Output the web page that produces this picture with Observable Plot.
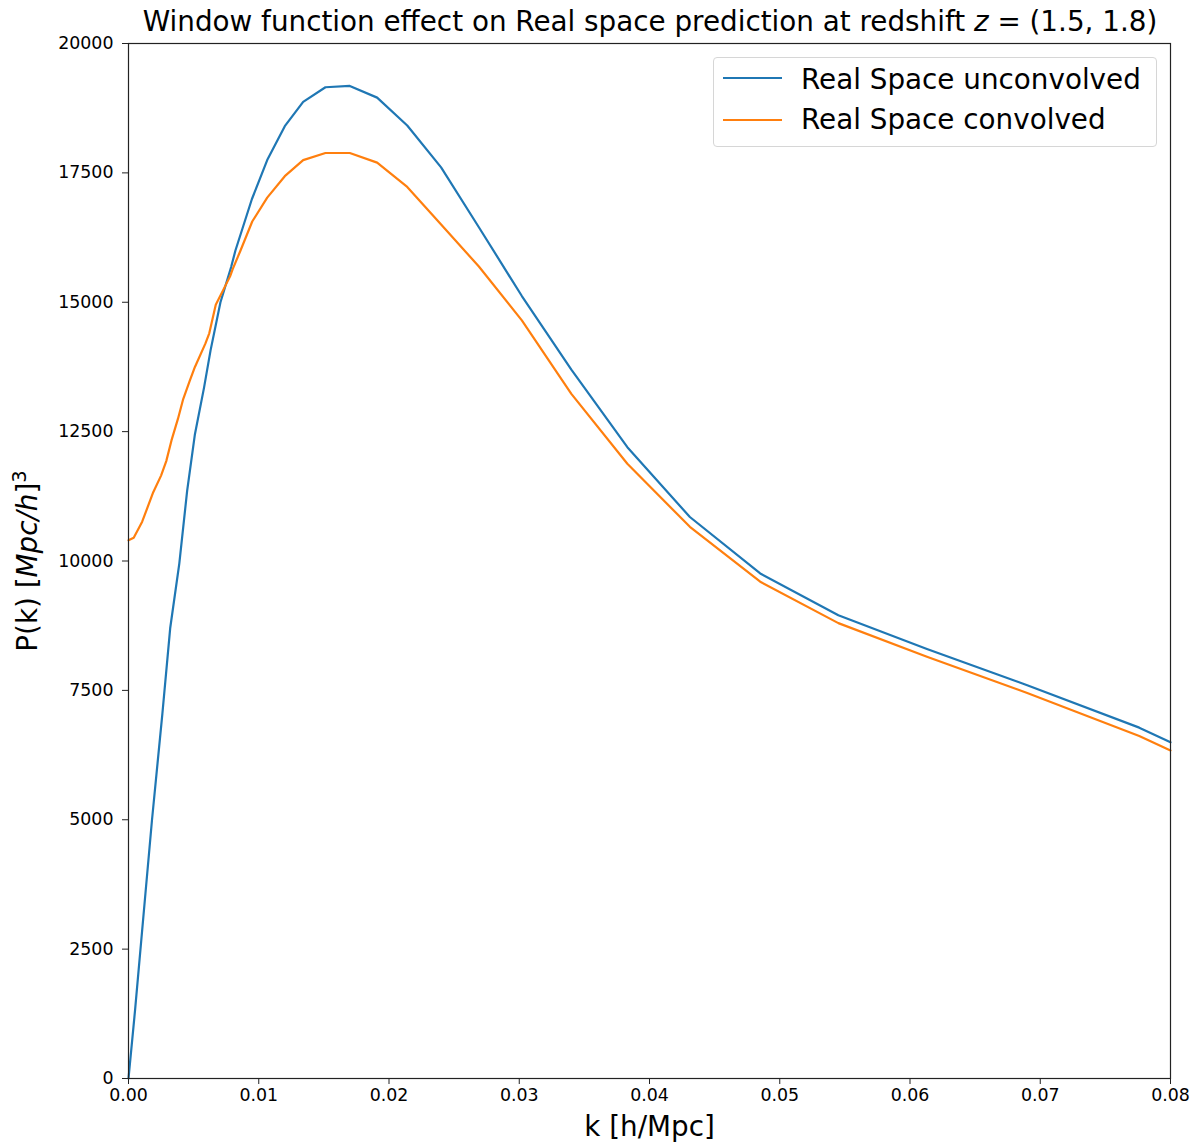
<!DOCTYPE html>
<html>
<head>
<meta charset="utf-8">
<script src="https://cdn.jsdelivr.net/npm/d3@7"></script>
<script src="https://cdn.jsdelivr.net/npm/@observablehq/plot@0.6"></script>
<style>
  html, body { margin: 0; padding: 0; background: #fff; }
  body { font-family: "DejaVu Sans", sans-serif; color: #000; }
  #wrap { position: relative; width: 1203px; height: 1146px; }
  #title { height: 33px; width: 1203px; position: relative; }
  #title span { position: absolute; left: 650px; top: 6px; transform: translateX(-50%); white-space: nowrap; font-size: 27.8px; line-height: 32px; }
  #legend { position: absolute; left: 713px; top: 57px; width: 442px; height: 88px; border: 1px solid #d6d6d6; border-radius: 4px; background: rgba(255,255,255,0.85); }
  #legend .swatch { position: absolute; left: 9px; width: 59px; height: 2px; }
  #legend .lab { position: absolute; left: 87px; font-size: 27.8px; white-space: nowrap; line-height: 32px; }
</style>
</head>
<body>
<div id="wrap">
  <div id="title"><span>Window function effect on Real space prediction at redshift <i>z</i> = (1.5, 1.8)</span></div>
  <div id="chart"></div>
  <div id="legend"></div>
</div>
<script>
// Data
const kUnconv = [0, 0.0005, 0.0013, 0.0018, 0.0026, 0.0032, 0.0039, 0.0045, 0.0051, 0.0058, 0.0063, 0.00706, 0.00788, 0.00821, 0.00947, 0.01065, 0.0120, 0.01341, 0.01512, 0.01699, 0.01909, 0.0214, 0.0240, 0.0269, 0.0302, 0.0340, 0.0383, 0.0431, 0.0485, 0.0545, 0.0613, 0.0690, 0.0776, 0.08];
const pUnconv = [0, 1310, 3575, 4986, 7047, 8700, 9950, 11350, 12450, 13350, 14070, 15000, 15680, 16000, 16990, 17747, 18402, 18871, 19155, 19180, 18954, 18415, 17607, 16450, 15120, 13700, 12200, 10850, 9760, 8950, 8300, 7600, 6780, 6499];

const kConv = [0, 0.0004, 0.00105, 0.0019, 0.0025, 0.0029, 0.0033, 0.0038, 0.0042, 0.0047, 0.0051, 0.0059, 0.0062, 0.0067, 0.0078, 0.0080, 0.0086, 0.0095, 0.01065, 0.0120, 0.01341, 0.01512, 0.01699, 0.01909, 0.0214, 0.0240, 0.0269, 0.0302, 0.0340, 0.0383, 0.0431, 0.0485, 0.0545, 0.0613, 0.0690, 0.0776, 0.08];
const pConv = [10400, 10450, 10760, 11330, 11650, 11930, 12330, 12750, 13130, 13480, 13750, 14200, 14400, 14950, 15500, 15640, 16000, 16560, 17022, 17436, 17747, 17884, 17884, 17698, 17229, 16504, 15690, 14650, 13230, 11880, 10660, 9600, 8800, 8150, 7450, 6620, 6340];

const seriesNames = ["Real Space unconvolved", "Real Space convolved"];
const seriesColors = ["#1f77b4", "#ff7f0e"];
const xTicks = [0, 0.01, 0.02, 0.03, 0.04, 0.05, 0.06, 0.07, 0.08];
const yTicks = [0, 2500, 5000, 7500, 10000, 12500, 15000, 17500, 20000];
const xLabel = "k [h/Mpc]";

const rows = [
  ...kUnconv.map((k, i) => ({k, p: pUnconv[i], s: seriesNames[0]})),
  ...kConv.map((k, i) => ({k, p: pConv[i], s: seriesNames[1]}))
];

const chart = Plot.plot({
  width: 1203,
  height: 1113,
  marginLeft: 128,
  marginRight: 33,
  marginTop: 10,
  marginBottom: 68,
  style: {fontFamily: "DejaVu Sans, sans-serif", color: "#000", background: "#fff"},
  x: {domain: [0, 0.08]},
  y: {domain: [0, 20000]},
  color: {domain: seriesNames, range: seriesColors},
  marks: [
    Plot.line(rows, {x: "k", y: "p", z: "s", stroke: "s", strokeWidth: 2.2}),
    Plot.frame({stroke: "#222", strokeWidth: 1.2}),
    Plot.axisX({ticks: xTicks, tickFormat: d3.format(".2f"), tickSize: 6, tickPadding: 4, fontSize: 17.4, label: null, stroke: "#222"}),
    Plot.axisY({ticks: yTicks, tickFormat: d3.format("d"), tickSize: 6, tickPadding: 9, fontSize: 17.4, label: null, stroke: "#222"}),
    Plot.text([xLabel], {frameAnchor: "bottom", dy: 57, fontSize: 27.8, text: d => d}),
    Plot.text(["P(k)"], {frameAnchor: "left", dx: -100, rotate: -90, textAnchor: "middle", fontSize: 27.8, text: d => d, className: "ylab"})
  ]
});
document.getElementById("chart").appendChild(chart);

// Rich y label: P(k) [Mpc/h]^3 with italic Mpc/h and superscript 3
const yl = chart.querySelector("g.ylab text") || chart.querySelector(".ylab text");
if (yl) {
  yl.textContent = "";
  const ns = "http://www.w3.org/2000/svg";
  const add = (txt, attrs) => {
    const t = document.createElementNS(ns, "tspan");
    t.textContent = txt;
    for (const [a, v] of Object.entries(attrs || {})) t.setAttribute(a, v);
    yl.appendChild(t);
    return t;
  };
  add("P(k) [");
  add("Mpc/h", {"font-style": "italic"});
  add("]");
  add("3", {"font-size": "19.5", dy: "-11"});
}

// Legend
const leg = document.getElementById("legend");
const swatchTops = [19, 61];
const labelTops = [6, 46];
seriesNames.forEach((name, i) => {
  const sw = document.createElement("div");
  sw.className = "swatch";
  sw.style.background = seriesColors[i];
  sw.style.top = swatchTops[i] + "px";
  const lab = document.createElement("div");
  lab.className = "lab";
  lab.textContent = name;
  lab.style.top = labelTops[i] + "px";
  leg.appendChild(sw);
  leg.appendChild(lab);
});
</script>
</body>
</html>
